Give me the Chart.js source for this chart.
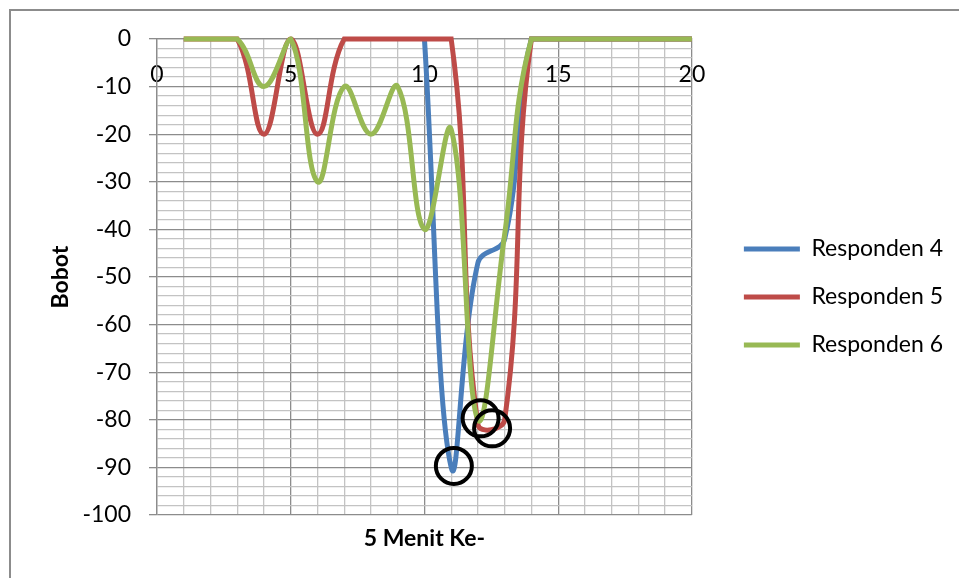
<!DOCTYPE html>
<html>
<head>
<meta charset="utf-8">
<title>Bobot per 5 menit</title>
<script src="https://cdn.jsdelivr.net/npm/chart.js@4.4.0/dist/chart.umd.min.js"></script>
<style>
  html, body { margin: 0; padding: 0; background: #fff; overflow: hidden; }
  #wrap { position: relative; width: 959px; height: 578px; }
  #frame { position: absolute; left: 9px; top: 9px; width: 1200px; height: 1200px;
           border-left: 2px solid #8c8c8c; border-top: 2px solid #8c8c8c; }
  canvas { position: absolute; left: 0; top: 0; }
</style>
</head>
<body>
<div id="wrap">
  <div id="frame"></div>
  <canvas id="chart" width="959" height="578"></canvas>
</div>
<script>
// 5-minute intervals
const minutes = [1, 2, 3, 4, 5, 6, 7, 8, 9, 10, 11, 12, 13, 14, 15, 16, 17, 18, 19, 20];

// weights per respondent
const responden4 = [null, null, null, null, null, null, null, null, null, 0, -90, -47, -42, 0, 0, 0, 0, 0, 0, 0];
const responden5 = [0, 0, 0, -20, 0, -20, 0, 0, 0, 0, 0, -81, -80, 0, 0, 0, 0, 0, 0, 0];
const responden6 = [0, 0, 0, -10, 0, -30, -10, -20, -10, -40, -19, -80, -41, 0, 0, 0, 0, 0, 0, 0];

// circled lowest points
const markX = [11.1, 12.1, 12.53];
const markY = [-89.7, -79.7, -81.8];

// labelled ticks
const xTickLabels = [0, 5, 10, 15, 20];
const yTickLabels = [0, -10, -20, -30, -40, -50, -60, -70, -80, -90, -100];

const seriesNames = ['Responden 4', 'Responden 5', 'Responden 6'];
const seriesColors = ['#4a7ebb', '#be4b48', '#98b954'];

const MAJOR = '#8c8c8c';
const MINOR = '#c3c3c3';
const FONT = 'Lato';
const LABEL_SIZE = 23;

Chart.defaults.font.family = FONT;
Chart.defaults.color = '#000';

const canvas = document.getElementById('chart');

// legend geometry: box, gap of half the font size, widest label
const LEG_BOX = 56;
const LEG_PAD = 25;
const GAP_AXIS = 27;
const PLOT_RIGHT = 691;
const measure = canvas.getContext('2d');
measure.font = LABEL_SIZE + 'px ' + FONT;
const widest = Math.max(...seriesNames.map((n) => measure.measureText(n).width));
const legendWidth = Math.ceil(LEG_PAD + LEG_BOX + LABEL_SIZE / 2 + widest + 10);
const rightPad = Math.max(0, canvas.width - PLOT_RIGHT - GAP_AXIS - legendWidth);

const toPoints = (vals) => minutes.map((m, i) => ({ x: m, y: vals[i] }));

const lineSet = (idx, vals, order) => ({
  label: seriesNames[idx],
  data: toPoints(vals),
  borderColor: seriesColors[idx],
  backgroundColor: seriesColors[idx],
  borderWidth: 5,
  pointRadius: 0,
  pointHoverRadius: 0,
  tension: 0.4,
  fill: false,
  clip: false,
  order: order
});

new Chart(canvas, {
  type: 'line',
  data: {
    datasets: [
      lineSet(0, responden4, 3),
      lineSet(1, responden5, 2),
      lineSet(2, responden6, 1),
      {
        label: 'lingkaran',
        data: markX.map((x, i) => ({ x: x, y: markY[i] })),
        showLine: false,
        pointRadius: 18,
        pointHoverRadius: 18,
        pointBorderWidth: 4,
        pointBorderColor: '#000',
        pointBackgroundColor: 'rgba(0,0,0,0)',
        borderColor: '#000',
        clip: false,
        order: 0
      }
    ]
  },
  options: {
    responsive: false,
    animation: false,
    devicePixelRatio: 1,
    events: [],
    layout: { padding: { left: 40, top: 39, right: rightPad, bottom: 23 } },
    scales: {
      x: {
        type: 'linear',
        position: 'top',
        min: 0,
        max: 20,
        afterFit: (s) => { s.height = 0; },
        ticks: {
          stepSize: 1,
          autoSkip: false,
          maxRotation: 0,
          minRotation: 0,
          mirror: true,
          padding: 22,
          font: { size: LABEL_SIZE },
          color: '#000',
          callback: (v) => xTickLabels.includes(v) ? String(v) : ''
        },
        grid: {
          drawTicks: false,
          lineWidth: 1.3,
          color: (c) => (c.tick && c.tick.value % 5 === 0) ? MAJOR : MINOR
        },
        border: { display: true, color: MAJOR, width: 1.3 }
      },
      x2: {
        type: 'linear',
        axis: 'x',
        position: 'bottom',
        min: 0,
        max: 20,
        afterFit: (s) => { s.height = 40; },
        ticks: { display: false },
        grid: { display: false },
        border: { display: false },
        title: {
          display: true,
          text: '5 Menit Ke-',
          color: '#000',
          font: { size: LABEL_SIZE, weight: 'bold' },
          padding: { top: 0, bottom: 3 }
        }
      },
      y: {
        type: 'linear',
        position: 'left',
        min: -100,
        max: 0,
        afterFit: (s) => { s.width = 117; },
        ticks: {
          stepSize: 2,
          autoSkip: false,
          padding: 18,
          font: { size: LABEL_SIZE },
          color: '#000',
          callback: (v) => yTickLabels.includes(v) ? String(v) : ''
        },
        grid: {
          lineWidth: 1.3,
          tickLength: 8,
          color: (c) => (c.tick && c.tick.value % 10 === 0) ? MAJOR : MINOR,
          tickColor: (c) => (c.tick && c.tick.value % 10 === 0) ? MAJOR : 'rgba(0,0,0,0)'
        },
        border: { display: true, color: MAJOR, width: 1.3 },
        title: {
          display: true,
          text: 'Bobot',
          color: '#000',
          font: { size: LABEL_SIZE, weight: 'bold' },
          padding: { top: 7, bottom: 0 }
        }
      },
      yGap: {
        type: 'linear',
        axis: 'y',
        position: 'right',
        afterFit: (s) => { s.width = GAP_AXIS; },
        ticks: { display: false },
        grid: { display: false },
        border: { display: false }
      }
    },
    plugins: {
      tooltip: { enabled: false },
      legend: {
        position: 'right',
        maxWidth: legendWidth,
        labels: {
          boxWidth: LEG_BOX,
          boxHeight: 5,
          padding: LEG_PAD,
          color: '#000',
          font: { size: LABEL_SIZE },
          useBorderRadius: true,
          borderRadius: 2.5,
          generateLabels: () => seriesNames.map((name, i) => ({
            text: name,
            fillStyle: seriesColors[i],
            strokeStyle: seriesColors[i],
            lineWidth: 0,
            hidden: false,
            datasetIndex: i
          }))
        }
      }
    }
  }
});
</script>
</body>
</html>
